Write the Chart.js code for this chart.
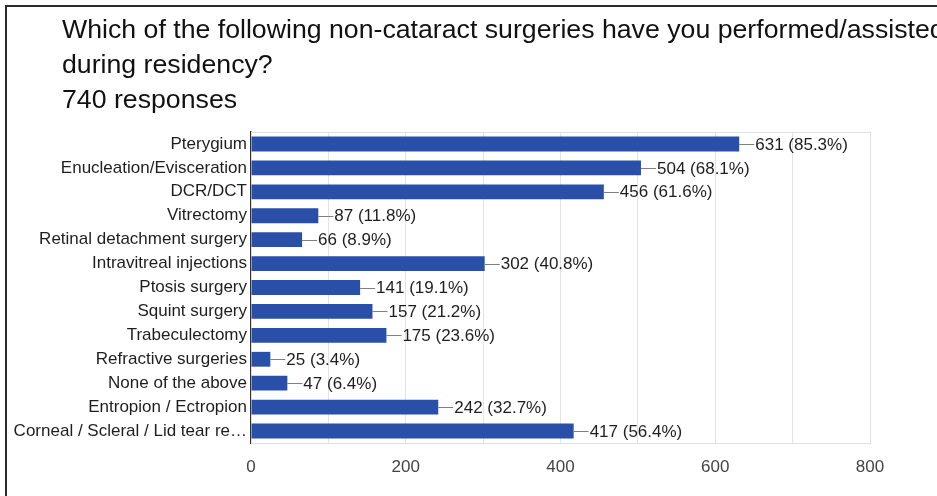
<!DOCTYPE html>
<html lang="en">
  <head>
    <meta charset="UTF-8" />
    <title>Non-cataract surgeries during residency</title>
    <style>
      body {
        margin: 0;
        background: #fff;
      }

      .frame {
        position: relative;
        width: 937px;
        height: 496px;
        overflow: hidden;
      }

      .edge {
        position: absolute;
        left: 5px;
        top: 5px;
        right: 0;
        bottom: 0;
        border-top: 2px solid #2a2a2a;
        border-left: 2px solid #2a2a2a;
      }

      .question {
        position: absolute;
        left: 62px;
        top: 12px;
        font-family: "Liberation Sans", Arial, sans-serif;
        font-size: 26.7px;
        line-height: 35px;
        color: #111;
        white-space: nowrap;
      }

      #chart {
        position: absolute;
        left: 0;
        top: 0;
      }
    </style>
  </head>
  <body>
    <div class="frame">
      <div class="edge"></div>
      <canvas id="chart" width="937" height="496"></canvas>
      <div class="question">
        Which of the following non-cataract surgeries have you performed/assisted<br />
        during residency?<br />
        740 responses
      </div>
    </div>

    <script src="https://cdn.jsdelivr.net/npm/chart.js"></script>

    <script>
      const surgeries = [
        "Pterygium",
        "Enucleation/Evisceration",
        "DCR/DCT",
        "Vitrectomy",
        "Retinal detachment surgery",
        "Intravitreal injections",
        "Ptosis surgery",
        "Squint surgery",
        "Trabeculectomy",
        "Refractive surgeries",
        "None of the above",
        "Entropion / Ectropion",
        "Corneal / Scleral / Lid tear re…",
      ];

      const counts = [631, 504, 456, 87, 66, 302, 141, 157, 175, 25, 47, 242, 417];

      const percents = [
        "85.3", "68.1", "61.6", "11.8", "8.9", "40.8", "19.1",
        "21.2", "23.6", "3.4", "6.4", "32.7", "56.4",
      ];

      const xTicks = [0, 200, 400, 600, 800];

      const font = "Liberation Sans, Arial, sans-serif";

      // light frame round the plot area
      const plotFrame = {
        id: "plotFrame",
        beforeDatasetsDraw(chart) {
          const { ctx, chartArea: a } = chart;
          ctx.save();
          ctx.strokeStyle = "#e0e0e0";
          ctx.lineWidth = 1;
          ctx.strokeRect(a.left + 0.5, a.top + 0.5, a.right - a.left, a.bottom - a.top);
          ctx.restore();
        },
      };

      // "—631 (85.3%)" next to each bar
      const valueLabels = {
        id: "valueLabels",
        afterDatasetsDraw(chart) {
          const { ctx } = chart;
          const meta = chart.getDatasetMeta(0);
          ctx.save();
          ctx.font = `17px ${font}`;
          ctx.textBaseline = "middle";
          meta.data.forEach((bar, i) => {
            const x = bar.x;
            const y = Math.round(bar.y) + 0.5;
            ctx.strokeStyle = "#7f7f7f";
            ctx.lineWidth = 1;
            ctx.beginPath();
            ctx.moveTo(x, y);
            ctx.lineTo(x + 15, y);
            ctx.stroke();
            ctx.fillStyle = "#1e1e1e";
            ctx.fillText(`${counts[i]} (${percents[i]}%)`, x + 16, bar.y + 1);
          });
          ctx.restore();
        },
      };

      new Chart(document.getElementById("chart"), {
        type: "bar",
        data: {
          labels: surgeries,
          datasets: [
            {
              data: counts,
              backgroundColor: "#2a4fa8",
              borderWidth: 0,
              categoryPercentage: 1,
              barPercentage: 0.62,
            },
          ],
        },
        options: {
          indexAxis: "y",
          responsive: false,
          animation: false,
          events: [],
          layout: {
            padding: { left: 0, top: 132, right: 67, bottom: 0 },
          },
          plugins: {
            legend: { display: false },
            tooltip: { enabled: false },
          },
          scales: {
            x: {
              min: 0,
              max: 800,
              afterFit(scale) {
                scale.height = 53;
              },
              afterBuildTicks(scale) {
                scale.ticks = [];
                for (let v = 0; v <= 800; v += 100) scale.ticks.push({ value: v });
              },
              grid: {
                color: "#e3e3e3",
                drawTicks: false,
              },
              border: { display: false },
              ticks: {
                padding: 14,
                color: "#444",
                font: { family: font, size: 17 },
                autoSkip: false,
                maxRotation: 0,
                callback: (v) => (xTicks.includes(v) ? String(v) : ""),
              },
            },
            y: {
              afterFit(scale) {
                scale.width = 251;
              },
              grid: { display: false, drawTicks: false },
              border: { display: true, color: "#333", width: 1.5 },
              ticks: {
                padding: 4,
                color: "#1e1e1e",
                font: { family: font, size: 17 },
                autoSkip: false,
              },
            },
          },
        },
        plugins: [plotFrame, valueLabels],
      });
    </script>
  </body>
</html>
